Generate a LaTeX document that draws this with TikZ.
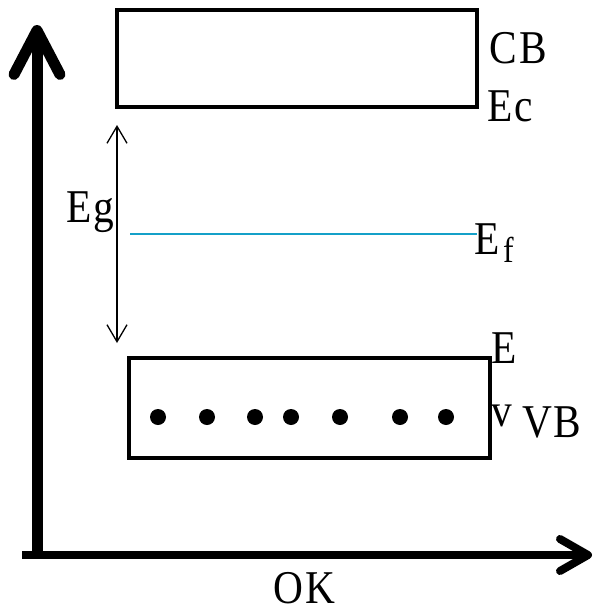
\documentclass[tikz,border=0pt]{standalone}
\usepackage{fontspec}
\setmainfont{Liberation Serif}
\usetikzlibrary{arrows.meta}
\begin{document}
\begin{tikzpicture}[x=1pt,y=-1pt,
  band/.style={draw=black,line width=4.5pt,line join=miter},
  lbl/.style={inner sep=0pt,anchor=base west,xscale=0.88,font=\fontsize{47}{47}\selectfont},
  sublbl/.style={inner sep=0pt,anchor=base west,xscale=0.88,font=\fontsize{36}{36}\selectfont},
  electron/.style={circle,fill=black,inner sep=0pt,minimum size=16pt}]
\useasboundingbox (0,0) rectangle (594,613);
% axes
\coordinate (o) at (37,558);
\coordinate (ytip) at (37,25);
\coordinate (xo) at (22,555);
\coordinate (xtip) at (592,555);
\draw[line width=11pt,-{Straight Barb[length=44pt,width=46pt,round,line width=11pt]}] (o) -- (ytip);
\draw[line width=8pt,-{Straight Barb[length=28pt,width=32pt,round,line width=8pt]}] (xo) -- (xtip);
% bands
\node[band,minimum width=360pt,minimum height=97pt,inner sep=0pt] (cb) at (297,58.5) {};
\node[band,minimum width=361pt,minimum height=100pt,inner sep=0pt] (vb) at (309.5,408) {};
% gap arrow
\coordinate (gt) at (117,125);
\coordinate (gb) at (117,343);
\draw[line width=1.3pt,{Straight Barb[length=17pt,width=20pt,line width=1.3pt]}-{Straight Barb[length=17pt,width=20pt,line width=1.3pt]}] (gt) -- (gb);
% fermi level
\coordinate (fl) at (130,234);
\coordinate (fr) at (477,234);
\draw[line width=2pt,color={rgb,255:red,20;green,160;blue,200}] (fl) -- (fr);
% electrons
\foreach \x/\n in {158/1,207/2,255/3,291/4,340/5,400/6,446/7}
  \node[electron] (e\n) at (\x,417) {};
% labels
\node[lbl] (lcb) at (489,63) {C\hspace{3pt}B};
\node[lbl] (lec) at (487,121) {E\hspace{2pt}c};
\node[lbl] (leg) at (66,222) {E\hspace{2pt}g};
\node[lbl] (lef) at (474,254) {E};
\node[sublbl] (lsf) at (503,262) {f};
\node[lbl] (lev) at (491,363) {E};
\node[lbl] (lsv) at (491,426) {v};
\node[lbl] (lvb) at (522,437) {V\hspace{2pt}B};
\node[lbl] (lok) at (273,603) {O\hspace{3pt}K};
\end{tikzpicture}
\end{document}
